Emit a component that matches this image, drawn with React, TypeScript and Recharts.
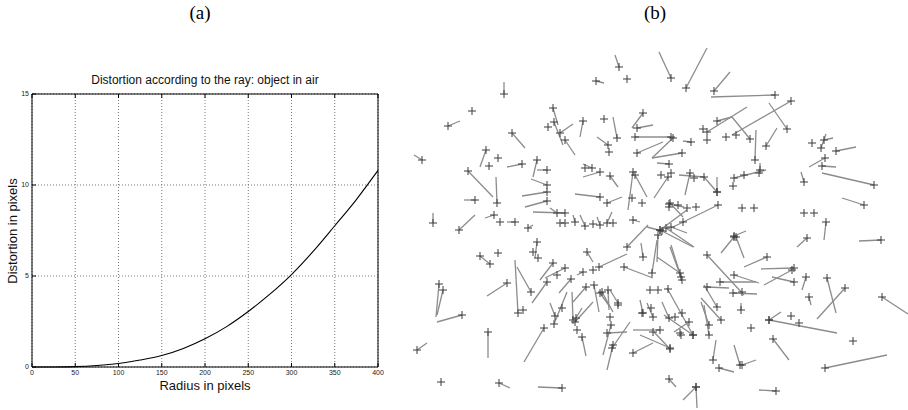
import React from 'react';
import {
  LineChart,
  Line,
  XAxis,
  YAxis,
  CartesianGrid,
  ScatterChart,
  Scatter,
  ReferenceLine
} from 'recharts';

// (a) distortion curve
const radius = [0, 25, 50, 75, 100, 125, 150, 175, 200, 225, 250, 275, 300, 325, 350, 375, 400];
const distortion = [0, 0.003, 0.02, 0.08, 0.19, 0.38, 0.63, 1.02, 1.55, 2.22, 3.05, 4.0, 5.08, 6.35, 7.76, 9.2, 10.8];
const radiusTicks = [0, 50, 100, 150, 200, 250, 300, 350, 400];
const distortionTicks = [0, 5, 10, 15];

// (b) displacement field: [x, y, tipX, tipY], the cross sits at x,y
const vectors: number[][] = [
  [219, 27, 215, 15], [196, 41, 204, 43], [104, 54, 104, 42], [48, 86, 60, 81], [22, 120, 14, 115],
  [153, 68, 158, 85], [154, 82, 163, 105], [160, 93, 173, 84], [165, 100, 175, 115], [183, 81, 180, 97],
  [217, 98, 213, 77], [208, 105, 197, 97], [243, 73, 232, 88], [237, 88, 253, 85], [235, 97, 271, 97],
  [112, 93, 125, 108], [86, 110, 80, 127], [122, 124, 107, 127], [137, 120, 133, 137], [147, 130, 137, 130],
  [68, 131, 93, 157], [97, 163, 96, 137], [75, 160, 64, 160], [147, 145, 131, 139], [147, 152, 122, 156],
  [147, 161, 125, 167], [192, 128, 183, 124], [200, 132, 183, 137], [210, 136, 218, 147], [200, 157, 175, 154],
  [207, 163, 222, 157], [233, 132, 228, 170], [235, 135, 247, 157], [237, 113, 263, 102], [165, 173, 133, 172],
  [157, 173, 150, 168], [175, 182, 173, 175], [185, 186, 180, 175], [207, 183, 212, 172], [200, 185, 197, 177],
  [33, 183, 33, 173], [59, 190, 75, 175], [94, 175, 85, 178], [115, 182, 107, 182], [128, 188, 133, 185],
  [271, 38, 259, 12], [286, 48, 307, 8], [314, 51, 330, 32], [375, 55, 311, 57], [391, 61, 332, 95],
  [387, 89, 369, 63], [307, 92, 347, 67], [317, 81, 332, 77], [350, 99, 332, 77], [291, 102, 283, 101],
  [355, 120, 356, 90], [366, 106, 377, 88], [424, 100, 433, 98], [421, 108, 426, 94], [436, 111, 456, 107],
  [425, 118, 409, 127], [422, 126, 436, 127], [474, 145, 422, 133], [404, 142, 401, 132], [464, 165, 442, 158],
  [273, 98, 252, 118], [282, 113, 252, 118], [269, 124, 257, 123], [268, 137, 254, 158], [290, 133, 285, 155],
  [304, 137, 279, 135], [317, 152, 304, 137], [317, 152, 317, 137], [334, 138, 366, 130], [360, 130, 360, 123],
  [426, 182, 424, 200], [318, 165, 273, 187], [269, 164, 284, 167],
  [137, 202, 135, 218], [80, 216, 90, 224], [39, 244, 36, 277], [43, 250, 37, 275], [62, 275, 37, 282],
  [17, 310, 27, 303], [88, 292, 88, 318], [99, 343, 110, 348], [162, 348, 138, 347], [144, 288, 124, 322],
  [107, 243, 87, 256], [118, 273, 115, 220], [131, 252, 117, 227], [153, 223, 140, 240], [165, 228, 145, 238],
  [147, 242, 132, 263], [171, 239, 159, 253], [183, 232, 177, 235], [199, 227, 227, 214], [187, 212, 193, 222],
  [227, 207, 248, 185], [224, 227, 253, 238], [243, 217, 241, 203], [194, 245, 199, 272], [186, 247, 173, 262],
  [155, 276, 150, 263], [154, 284, 167, 252], [173, 280, 172, 252], [175, 282, 193, 262], [176, 278, 182, 268],
  [182, 297, 186, 316], [202, 252, 213, 272], [208, 250, 209, 270], [211, 285, 203, 315], [212, 308, 230, 282],
  [213, 305, 207, 330], [207, 293, 227, 292], [233, 313, 253, 303], [200, 253, 210, 267],
  [266, 188, 294, 207], [271, 187, 287, 193], [334, 197, 321, 213], [336, 197, 344, 218], [334, 196, 346, 191],
  [407, 198, 397, 207], [481, 200, 459, 201], [258, 195, 257, 222], [281, 237, 271, 205], [367, 217, 344, 227],
  [394, 228, 361, 229], [392, 230, 364, 245], [394, 242, 372, 237], [406, 237, 402, 250], [409, 257, 411, 265],
  [427, 238, 436, 273], [445, 248, 417, 279], [482, 257, 508, 274], [307, 215, 344, 255], [307, 247, 329, 248],
  [320, 242, 356, 242], [334, 235, 359, 243], [333, 253, 357, 254], [341, 270, 341, 263], [317, 267, 304, 245],
  [321, 280, 301, 258], [309, 285, 301, 262], [309, 295, 304, 265], [293, 295, 264, 275], [289, 282, 274, 292],
  [270, 309, 254, 292], [269, 278, 262, 262], [369, 280, 381, 272], [369, 280, 437, 293], [373, 299, 389, 320],
  [313, 320, 316, 300], [319, 328, 334, 332], [340, 325, 334, 305], [342, 325, 356, 320], [425, 328, 487, 315],
  [269, 339, 276, 347], [296, 347, 297, 368], [296, 347, 283, 360], [376, 351, 359, 350],
  [260, 190, 293, 207], [260, 190, 287, 170], [262, 191, 247, 187], [270, 163, 283, 177], [252, 233, 257, 200],
  [282, 240, 270, 207], [280, 233, 257, 217], [293, 295, 267, 248], [243, 273, 240, 260], [253, 277, 247, 263],
  [260, 290, 233, 290], [270, 308, 240, 295], [218, 263, 210, 250], [233, 180, 240, 182]
];

// crosses with no visible displacement
const loneCrosses: number[][] = [
  [227, 39], [72, 71], [148, 87], [204, 79], [209, 112], [98, 118], [89, 126], [185, 128], [232, 158], [242, 163],
  [271, 97], [160, 183], [165, 183], [193, 184], [213, 183], [100, 182], [303, 89], [307, 100], [326, 97], [336, 95],
  [412, 103], [261, 135], [271, 133], [294, 138], [333, 146], [344, 135], [359, 133], [404, 173], [414, 173], [354, 168],
  [342, 168], [296, 167], [287, 168], [278, 165], [269, 167], [138, 218], [133, 212], [90, 224], [98, 213], [123, 270],
  [157, 235], [193, 230], [162, 268], [177, 290], [218, 265], [210, 277], [242, 273], [251, 268], [253, 292], [342, 252],
  [281, 295], [351, 288], [391, 276], [399, 283], [453, 301], [41, 342], [250, 250], [258, 250], [268, 249], [282, 273],
  [275, 277], [280, 293], [283, 182]
];

const curveData = radius.map((r, i) => ({ r, d: distortion[i] }));
const crossData = [
  ...vectors.map(v => ({ x: v[0], y: v[1] })),
  ...loneCrosses.map(p => ({ x: p[0], y: p[1] }))
];

const tickFont = { fontSize: 7, fill: '#222', fontFamily: 'Liberation Sans, Arial, sans-serif' };
const noLabel = () => null;

const Cross = (props: any) => {
  const { cx, cy } = props;
  return (
    <g stroke="#3c3c3c" strokeWidth={1}>
      <line x1={cx - 4} x2={cx + 4} y1={cy} y2={cy} />
      <line x1={cx} x2={cx} y1={cy - 4} y2={cy + 4} />
    </g>
  );
};

export default function App() {
  const sans = 'Liberation Sans, Arial, Helvetica, sans-serif';
  return (
    <div style={{ position: 'absolute', left: 0, top: 0, width: 908, height: 410, background: '#fff', overflow: 'hidden' }}>
      <div style={{ position: 'absolute', left: 170, width: 60, top: 2, textAlign: 'center', fontFamily: 'Liberation Serif, Times New Roman, serif', fontSize: 19 }}>(a)</div>
      <div style={{ position: 'absolute', left: 625, width: 60, top: 2, textAlign: 'center', fontFamily: 'Liberation Serif, Times New Roman, serif', fontSize: 19 }}>(b)</div>

      <div style={{ position: 'absolute', left: 0, top: 0 }}>
        <LineChart width={400} height={410} data={curveData} margin={{ top: 93, right: 21, bottom: 10, left: 0 }}>
          <CartesianGrid stroke="#555" strokeDasharray="1 2" strokeWidth={0.8} />
          <XAxis
            dataKey="r"
            type="number"
            domain={[0, 400]}
            ticks={radiusTicks}
            height={33}
            stroke="#000"
            tickSize={-4}
            tickMargin={7}
            tick={tickFont}
          />
          <XAxis xAxisId="top" orientation="top" dataKey="r" type="number" domain={[0, 400]} ticks={radiusTicks} height={1} stroke="#000" tickSize={-4} tick={noLabel} />
          <YAxis
            type="number"
            domain={[0, 15]}
            ticks={distortionTicks}
            width={32}
            stroke="#000"
            tickSize={-4}
            tickMargin={7}
            tick={tickFont}
          />
          <YAxis yAxisId="right" orientation="right" type="number" domain={[0, 15]} ticks={distortionTicks} width={1} stroke="#000" tickSize={-4} tick={noLabel} />
          <Line type="monotone" dataKey="d" stroke="#000" strokeWidth={1.1} dot={false} isAnimationActive={false} />
        </LineChart>
      </div>
      <div style={{ position: 'absolute', left: 32, width: 346, top: 73, textAlign: 'center', fontFamily: sans, fontSize: 12, lineHeight: '14px', color: '#111' }}>
        Distortion according to the ray: object in air
      </div>
      <div style={{ position: 'absolute', left: 32, width: 346, top: 378, textAlign: 'center', fontFamily: sans, fontSize: 13, lineHeight: '16px', color: '#111' }}>
        Radius in pixels
      </div>
      <div style={{ position: 'absolute', left: 13, top: 231, width: 0, height: 0 }}>
        <div style={{ position: 'absolute', left: -70, top: -8, width: 140, textAlign: 'center', transform: 'rotate(-90deg)', fontFamily: sans, fontSize: 13, lineHeight: '16px', color: '#111', whiteSpace: 'nowrap' }}>
          Distortion in pixels
        </div>
      </div>

      <div style={{ position: 'absolute', left: 400, top: 40 }}>
        <ScatterChart width={508} height={370} margin={{ top: 0, right: 0, bottom: 0, left: 0 }}>
          <XAxis dataKey="x" type="number" domain={[0, 508]} hide />
          <YAxis dataKey="y" type="number" domain={[0, 370]} reversed hide />
          {vectors.map((v, i) => (
            <ReferenceLine
              key={i}
              segment={[{ x: v[2], y: v[3] }, { x: v[0], y: v[1] }]}
              stroke="#8c8c8c"
              strokeWidth={1.3}
              ifOverflow="visible"
            />
          ))}
          <Scatter data={crossData} shape={<Cross />} isAnimationActive={false} />
        </ScatterChart>
      </div>
    </div>
  );
}
